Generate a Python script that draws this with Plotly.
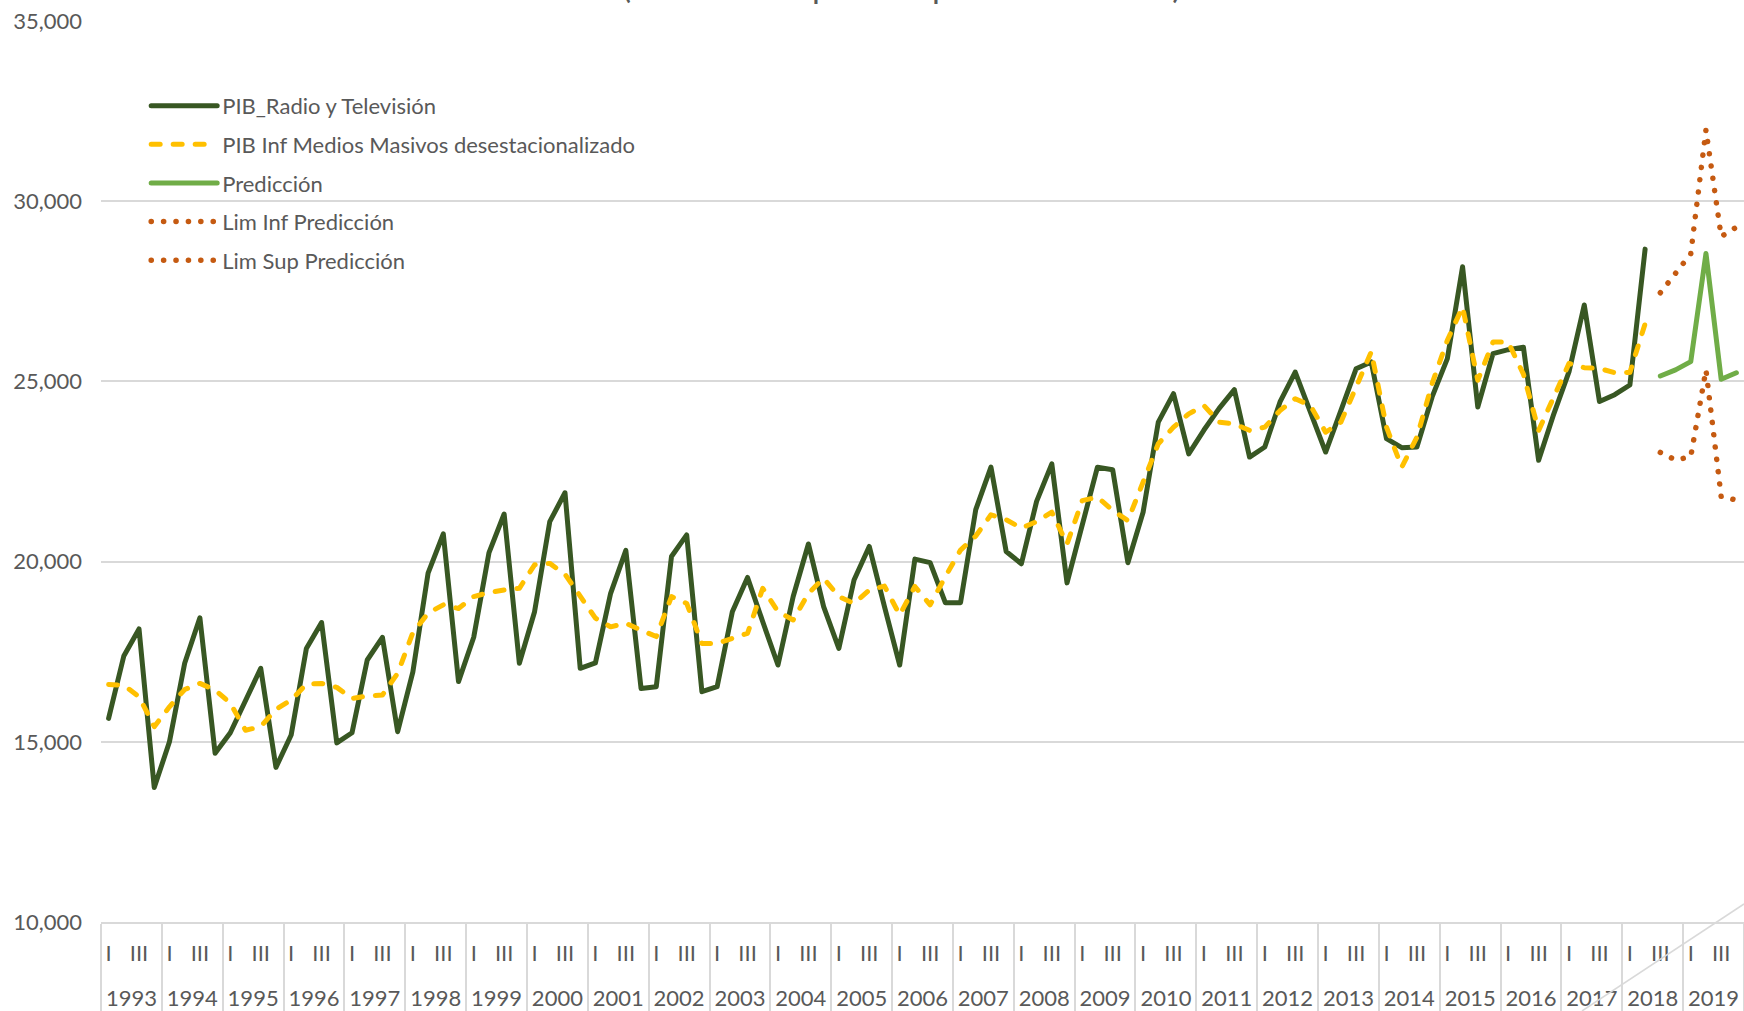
import plotly.graph_objects as go

# ---------------- data ----------------
years = list(range(1993, 2020))
quarters = ["I", "II", "III", "IV"]
periods = [f"{y} {q}" for y in years for q in quarters]

pib_radio_tv = [
    15650, 17380, 18130, 13730,
    15000, 17180, 18440, 14680,
    15250, 16150, 17040, 14290,
    15190, 17590, 18310, 14970,
    15250, 17270, 17900, 15280,
    16940, 19680, 20770, 16670,
    17900, 20240, 21320, 17180,
    18610, 21110, 21910, 17040,
    17190, 19120, 20310, 16480,
    16530, 20140, 20740, 16390,
    16530, 18610, 19560, 18330,
    17130, 19030, 20490, 18750,
    17590, 19490, 20420, 18750,
    17130, 20070, 19970, 18860,
    18860, 21440, 22620, 20280,
    19940, 21670, 22710, 19410,
    21000, 22620, 22550, 19970,
    21370, 23870, 24660, 22990,
    23650, 24250, 24770, 22900,
    23180, 24430, 25260, 24100,
    23040, 24190, 25350, 25540,
    23410, 23160, 23180, 24570,
    25630, 28180, 24290, 25770,
    25880, 25950, 22810, 24100,
    25270, 27120, 24440, 24630,
    24900, 28670,
]

pib_desest = [
    16590, 16570, 16250, 15420,
    15970, 16450, 16620, 16440,
    16070, 15320, 15420, 15900,
    16160, 16600, 16620, 16510,
    16200, 16270, 16300, 16900,
    18030, 18570, 18800, 18700,
    19030, 19140, 19210, 19260,
    19910, 19950, 19650, 19030,
    18430, 18190, 18290, 18100,
    17920, 19030, 18840, 17730,
    17730, 17870, 18010, 19260,
    18610, 18380, 19120, 19540,
    19030, 18840, 19210, 19320,
    18520, 19310, 18800, 19580,
    20320, 20710, 21300, 21160,
    20930, 21110, 21370, 20490,
    21690, 21790, 21420, 21140,
    22160, 23270, 23730, 24100,
    24330, 23870, 23820, 23640,
    23730, 24190, 24520, 24330,
    23590, 23870, 24840, 25820,
    23730, 22620, 23450, 24940,
    26140, 27070, 25030, 26090,
    26090, 25200, 23640, 24580,
    25500, 25380, 25360, 25240,
    25250, 26600,
]

prediccion = [25150, 25320, 25550, 28550, 25060, 25240]
lim_inf = [23030, 22820, 22910, 25320, 21800, 21710]
lim_sup = [27460, 28020, 28540, 31980, 29020, 29280]

titulo = "(Millones de pesos a precios de 2015)"

# ---------------- positions from categories ----------------
idx = {p: i for i, p in enumerate(periods)}
n_hist = len(pib_radio_tv)
x_hist = [idx[p] for p in periods[:n_hist]]
x_pred = [idx[p] for p in periods[n_hist:n_hist + len(prediccion)]]

q_vals = [idx[p] for p in periods if p.split()[1] in ("I", "III")]
q_text = [p.split()[1] for p in periods if p.split()[1] in ("I", "III")]
year_centers = [(idx[f"{y} II"] + idx[f"{y} III"]) / 2 for y in years]
year_text = [str(y) for y in years]
year_bounds = [idx[f"{y} I"] - 0.5 for y in years] + [idx[periods[-1]] + 0.5]

FONT = "Lato"
GRAY = "#595959"
GRID = "#D9D9D9"
FS = 22

fig = go.Figure()
fig.add_trace(go.Scatter(x=x_hist, y=pib_radio_tv, mode="lines",
                         name="PIB_Radio y Televisión", legendgroup="a",
                         line=dict(color="#385723", width=5)))
fig.add_trace(go.Scatter(x=x_hist, y=pib_desest, mode="lines",
                         name="PIB Inf Medios Masivos desestacionalizado", legendgroup="b",
                         line=dict(color="#FFC000", width=5, dash="9px,13px")))
fig.add_trace(go.Scatter(x=x_pred, y=prediccion, mode="lines", xaxis="x2",
                         name="Predicción", legendgroup="c",
                         line=dict(color="#70AD47", width=5)))
fig.add_trace(go.Scatter(x=x_pred, y=lim_inf, mode="lines", xaxis="x2",
                         name="Lim Inf Predicción", legendgroup="d",
                         line=dict(color="#C55A11", width=5.5, dash="0.1px,12.3px")))
fig.add_trace(go.Scatter(x=x_pred, y=lim_sup, mode="lines", xaxis="x2",
                         name="Lim Sup Predicción", legendgroup="e",
                         line=dict(color="#C55A11", width=5.5, dash="0.1px,12.3px")))

fig.update_layout(
    width=1744, height=1011,
    margin=dict(l=101, r=0, t=21, b=89),
    paper_bgcolor="white", plot_bgcolor="white",
    font=dict(family=FONT, size=FS, color=GRAY),
    showlegend=True,
    legend=dict(x=0.0275, y=0.929, xanchor="left", yanchor="top",
                bgcolor="rgba(0,0,0,0)", itemwidth=66,
                tracegroupgap=7, traceorder="grouped",
                font=dict(family=FONT, size=FS, color=GRAY)),
    xaxis=dict(range=[-0.5, len(periods) - 0.5], tickmode="array",
               tickvals=q_vals, ticktext=q_text, ticks="",
               ticklabelstandoff=11,
               showgrid=False, zeroline=False,
               showline=True, linecolor=GRID, linewidth=1.5,
               minor=dict(tickmode="array", tickvals=year_bounds,
                          ticks="outside", ticklen=100, tickwidth=1.5,
                          tickcolor=GRID, showgrid=False)),
    xaxis2=dict(range=[-0.5, len(periods) - 0.5], overlaying="x", side="bottom",
                anchor="y", tickmode="array", tickvals=year_centers,
                ticktext=year_text, ticks="", ticklabelstandoff=61,
                showgrid=False, zeroline=False, showline=False),
    yaxis=dict(range=[10000, 35000], tickmode="array",
               tickvals=[10000, 15000, 20000, 25000, 30000, 35000],
               tickformat=",", ticks="", ticklabelstandoff=18,
               showgrid=True, gridcolor=GRID, gridwidth=1.5,
               zeroline=False, showline=False),
    annotations=[dict(text=titulo, xref="paper", yref="paper",
                      x=0.487, y=1 + 14 / 901, xanchor="center", yanchor="bottom",
                      showarrow=False, font=dict(family=FONT, size=34, color=GRAY))],
    shapes=[dict(type="line", xref="paper", yref="paper",
                 x0=1.0, y0=18 / 901, x1=1481 / 1643, y1=-89 / 901,
                 line=dict(color=GRID, width=1.5))],
)

post = """
document.body.style.margin='0';
document.querySelectorAll('.js-line').forEach(function(p){
  p.style.strokeLinecap='round'; p.style.strokeLinejoin='round';
});
"""
fig.write_html("out.html", post_script=post, config={"displayModeBar": False})
